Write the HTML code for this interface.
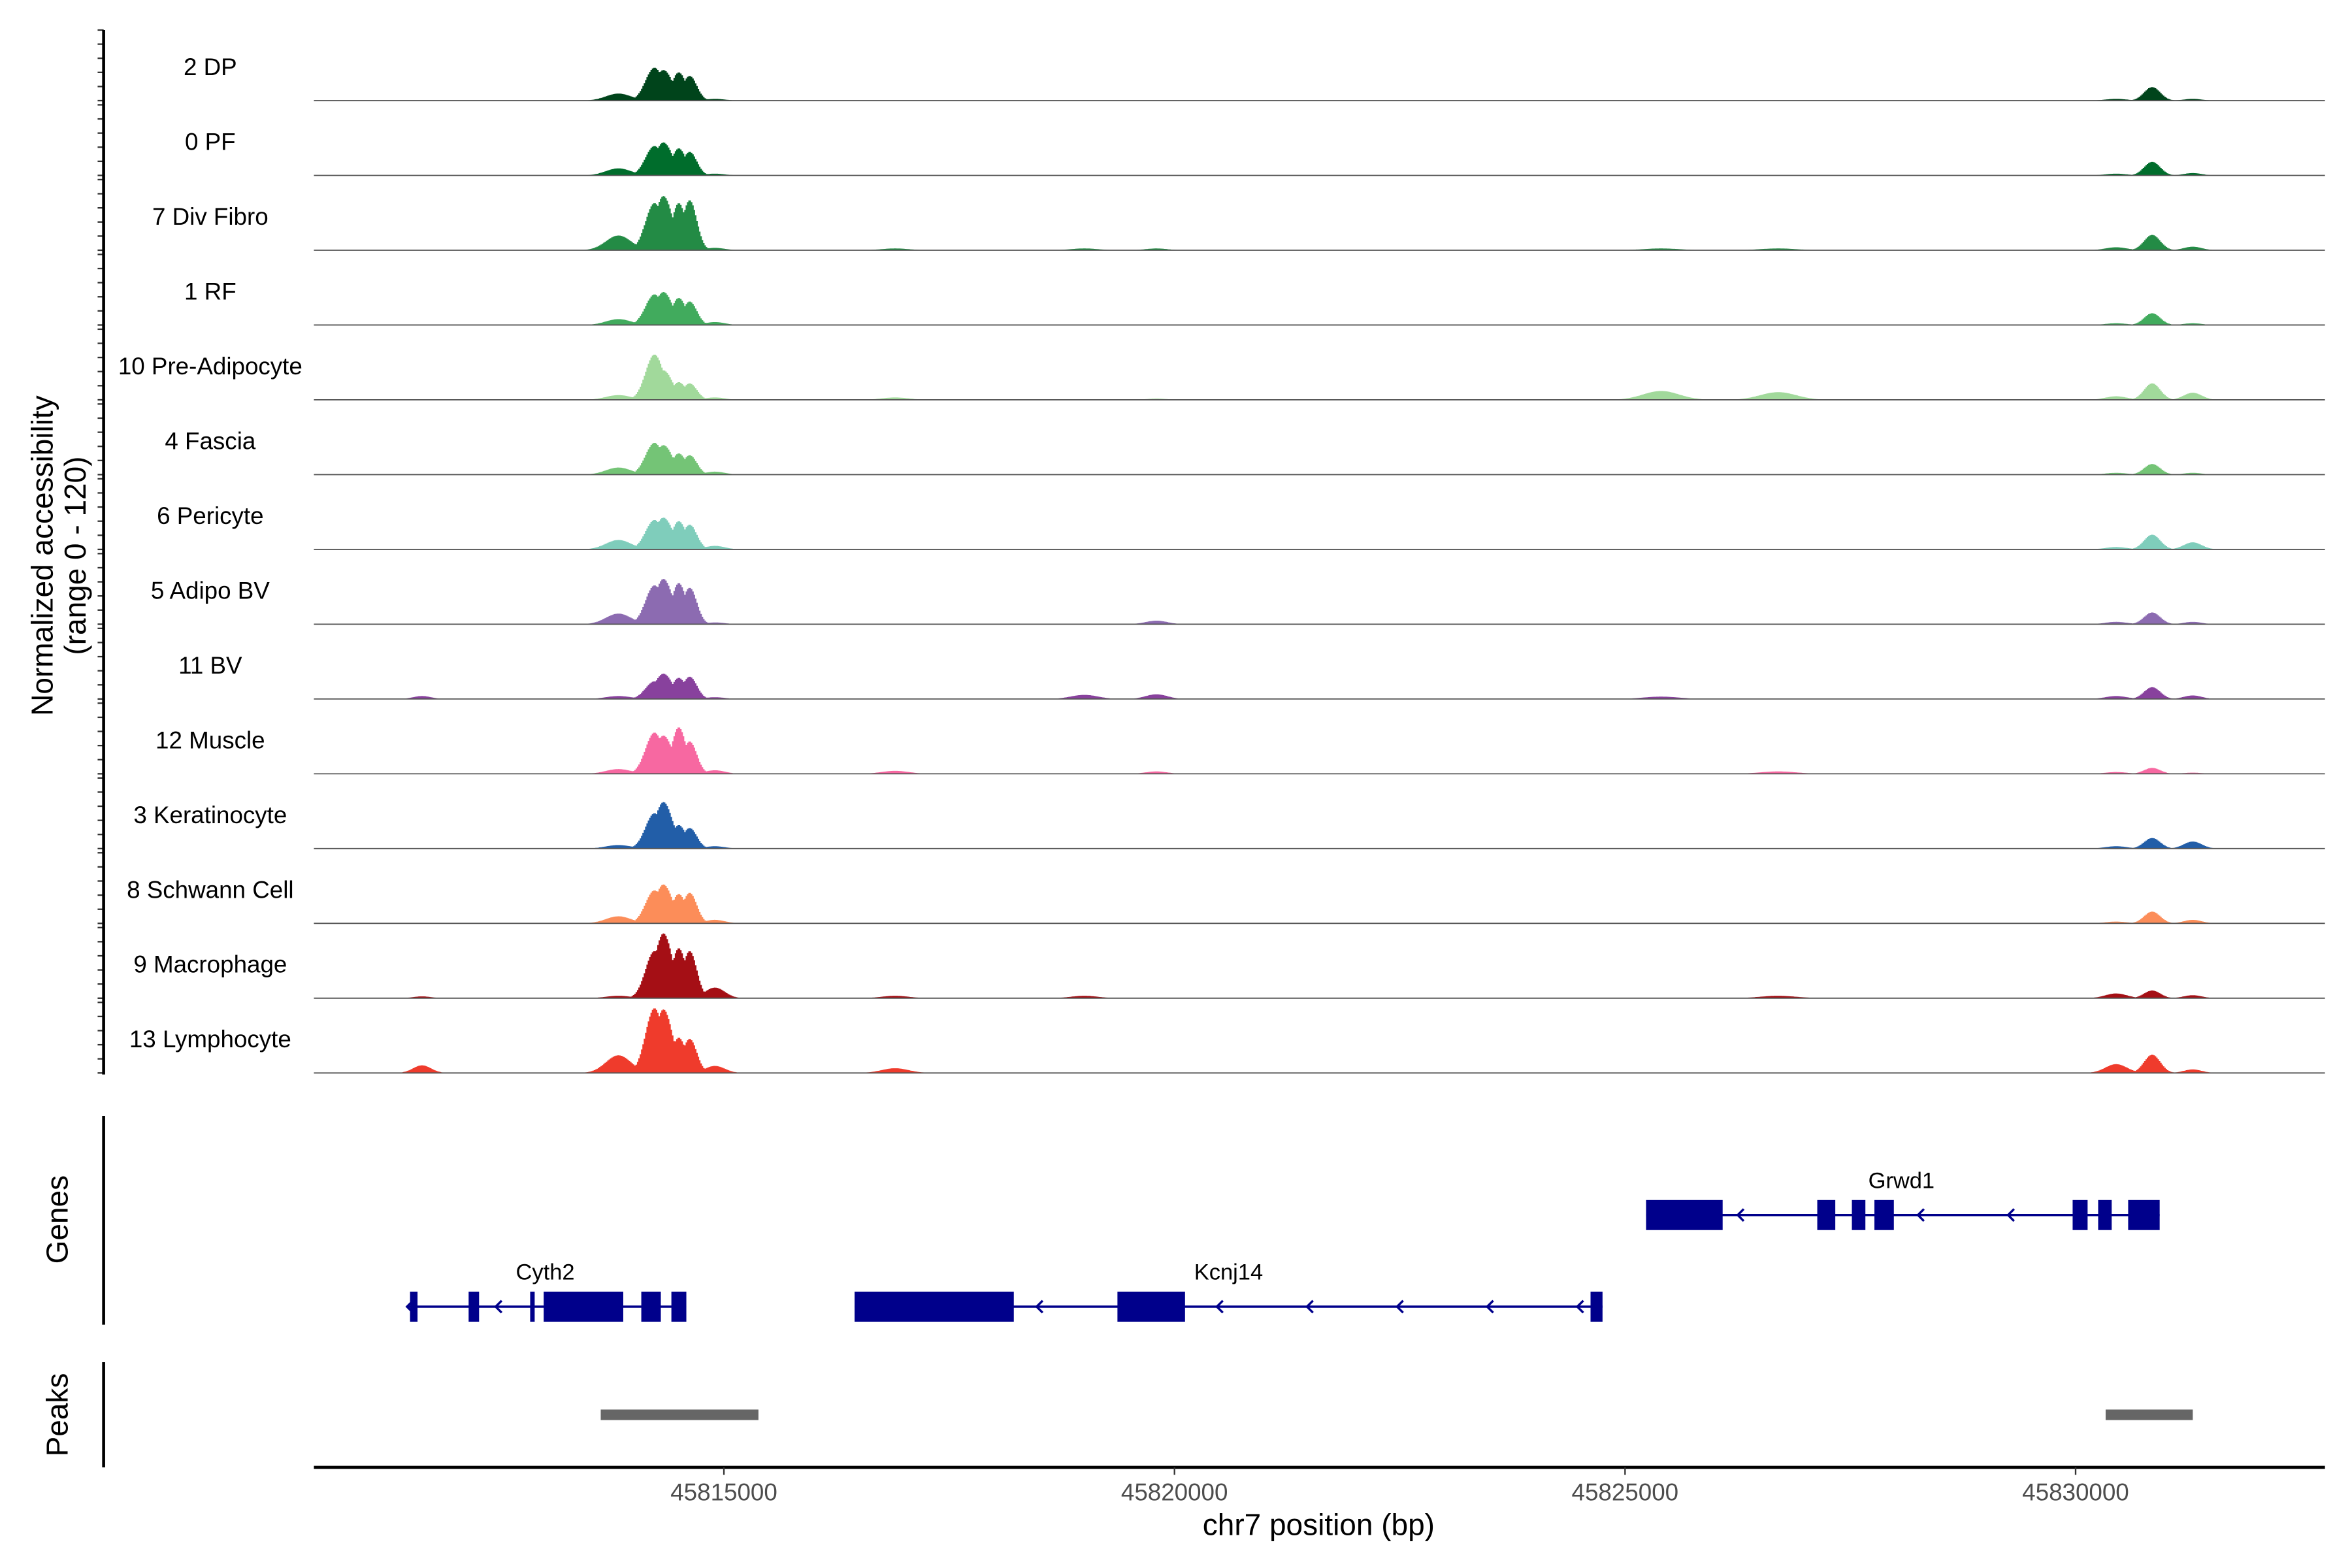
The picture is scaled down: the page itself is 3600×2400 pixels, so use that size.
<!DOCTYPE html>
<html><head><meta charset="utf-8"><style>
html,body{margin:0;padding:0;background:#fff;}
svg{display:block;font-family:"Liberation Sans",Arial,sans-serif;}
</style></head><body>
<svg id="chart" width="3600" height="2400" viewBox="0 0 1566 1044" xmlns="http://www.w3.org/2000/svg">
<g id="tracks"></g>
<g id="leftaxis"></g>
<text transform="translate(35,370) rotate(-90)" text-anchor="middle" font-size="20" fill="#000">Normalized accessibility</text>
<text transform="translate(57,370) rotate(-90)" text-anchor="middle" font-size="20" fill="#000">(range 0 - 120)</text>
<line x1="69" y1="743" x2="69" y2="882" stroke="#000" stroke-width="2"/>
<text transform="translate(45,812) rotate(-90)" text-anchor="middle" font-size="20">Genes</text>
<line x1="69" y1="907" x2="69" y2="977" stroke="#000" stroke-width="2"/>
<text transform="translate(45,942) rotate(-90)" text-anchor="middle" font-size="20">Peaks</text>
<g id="genes"></g>
<g id="peaks"></g>
<g id="xaxis"></g>
<text x="878" y="1022" text-anchor="middle" font-size="20">chr7 position (bp)</text>
</svg>
<script>
const NS="http://www.w3.org/2000/svg";
// ---- data ----
const trackNames=["2 DP","0 PF","7 Div Fibro","1 RF","10 Pre-Adipocyte","4 Fascia","6 Pericyte","5 Adipo BV","11 BV","12 Muscle","3 Keratinocyte","8 Schwann Cell","9 Macrophage","13 Lymphocyte"];
const trackColors=["#00441b","#006d2c","#238b45","#41ab5d","#a1d99b","#74c476","#7fcdbb","#8c6bb1","#88419d","#f768a1","#225ea8","#fc8d59","#a50f15","#ef3b2c"];
const peakCenters=[45811650,45813830,45814230,45814330,45814500,45814620,45814900,45816900,45819000,45819800,45825400,45826700,45830450,45830850,45831300];
const peakSigma=[100,140,100,100,80,80,110,150,150,120,200,200,120,90,100];
const h_2DP=[0,12,56,52,48,42,3,0,0,0,0,0,3,23,3];
const h_0PF=[0,12,50,56,46,40,3,0,0,0,0,0,3,23,4];
const h_7Div=[0,25,80,92,80,85,4,3,3,3,3,3,5,26,6];
const h_1RF=[0,10,52,56,46,40,5,0,0,0,0,0,3,20,3];
const h_PreAd=[0,8,77,50,30,28,4,4,0,2,15,13,6,28,12];
const h_Fascia=[0,12,54,50,36,33,5,0,0,0,0,0,3,18,3];
const h_Peri=[0,16,50,54,48,42,6,0,0,0,0,0,4,25,12];
const h_AdipoBV=[0,18,66,77,70,62,3,0,0,6,0,0,4,20,4];
const h_BV=[5,5,30,43,36,38,3,0,7,8,4,0,5,20,6];
const h_Muscle=[0,8,70,65,79,55,6,5,0,4,0,4,3,10,2];
const h_Kerat=[0,6,60,79,40,35,4,0,0,0,0,0,4,18,12];
const h_Schwann=[0,12,56,66,50,52,6,0,0,0,0,0,3,20,6];
const h_Macro=[3,4,80,110,85,80,18,4,4,0,0,4,8,13,5];
const h_Lymph=[13,30,110,108,60,58,12,8,0,0,0,0,15,31,6];
const trackHeights=[h_2DP,h_0PF,h_7Div,h_1RF,h_PreAd,h_Fascia,h_Peri,h_AdipoBV,h_BV,h_Muscle,h_Kerat,h_Schwann,h_Macro,h_Lymph];
const xTicks=[45815000,45820000,45825000,45830000];
const xTickLabels=["45815000","45820000","45825000","45830000"];
const peakRegions=[[45813633,45815383],[45830333,45831300]];
const genes=["Grwd1","Cyth2","Kcnj14"];
const geneSpan=[[45825233,45830933],[45811483,45814583],[45816450,45824750]];
const geneRow=[0,1,1];
const geneLabelPos=[45828067,45813017,45820600];
const exonsGrwd1=[[45825233,45826083],[45827133,45827333],[45827517,45827667],[45827767,45827983],[45829967,45830133],[45830250,45830400],[45830583,45830933]];
const exonsCyth2=[[45811517,45811600],[45812167,45812283],[45812850,45812900],[45813000,45813883],[45814083,45814300],[45814417,45814583]];
const exonsKcnj14=[[45816450,45818217],[45819367,45820117],[45824617,45824750]];
const geneExons=[exonsGrwd1,exonsCyth2,exonsKcnj14];
const arrowsGrwd1=[45826250,45828250,45829250];
const arrowsCyth2=[45811483,45812467];
const arrowsKcnj14=[45818470,45820470,45821470,45822470,45823470,45824470];
const geneArrows=[arrowsGrwd1,arrowsCyth2,arrowsKcnj14];
// ---- scales ----
const X0=209,X1=1548,BP0=45810450,BP1=45832767;
const xs=bp=>X0+(bp-BP0)*(X1-X0)/(BP1-BP0);
const TOP0=20,TSP=49.8,TH=47;
const baseY=i=>TOP0+TH+i*TSP;
const ys=(i,v)=>baseY(i)-Math.min(v,120)/120*TH;
function sig(h,bp){let m=0;for(let k=0;k<peakCenters.length;k++){const d=(bp-peakCenters[k])/peakSigma[k];const v=h[k]*Math.exp(-0.5*d*d);if(v>m)m=v;}return m;}
const tracksG=document.getElementById('tracks');
const axG=document.getElementById('leftaxis');
trackNames.forEach((name,i)=>{
  const g=document.createElementNS(NS,'g');
  
  
  let d='M'+X0+','+baseY(i);
  const step=15;
  for(let bp=BP0;bp<=BP1;bp+=step){
    const v=sig(trackHeights[i],bp+step/2);
    const y=ys(i,v).toFixed(2);
    d+='L'+xs(bp).toFixed(2)+','+y+'L'+xs(bp+step).toFixed(2)+','+y;
  }
  d+='L'+X1+','+baseY(i)+'Z';
  const p=document.createElementNS(NS,'path');
  p.setAttribute('d',d);p.setAttribute('fill',trackColors[i]);
  
  
  g.appendChild(p);
  const l=document.createElementNS(NS,'line');
  l.setAttribute('x1',X0);l.setAttribute('x2',X1);l.setAttribute('y1',baseY(i));l.setAttribute('y2',baseY(i));
  l.setAttribute('stroke','#555');l.setAttribute('stroke-width','0.8');
  
  
  g.appendChild(l);
  const t=document.createElementNS(NS,'text');
  t.setAttribute('x',140);t.setAttribute('y',baseY(i)-17);t.setAttribute('text-anchor','middle');t.setAttribute('font-size','16');
  t.textContent=name;
  
  
  g.appendChild(t);
  tracksG.appendChild(g);
  for(let k=0;k<=5;k++){
    const tk=document.createElementNS(NS,'line');
    const yy=ys(i,k*24);
    tk.setAttribute('x1',65);tk.setAttribute('x2',69);tk.setAttribute('y1',yy);tk.setAttribute('y2',yy);
    tk.setAttribute('stroke','#333');tk.setAttribute('stroke-width','1');
    
    
    axG.appendChild(tk);
  }
});
const al=document.createElementNS(NS,'line');
al.setAttribute('x1',69);al.setAttribute('x2',69);al.setAttribute('y1',TOP0);al.setAttribute('y2',baseY(13)+1);
al.setAttribute('stroke','#000');al.setAttribute('stroke-width','2');


axG.appendChild(al);
// genes
const gG=document.getElementById('genes');
const rowY=[809,870];
genes.forEach((gn,gi)=>{
  const g=document.createElementNS(NS,'g');
  
  
  const y=rowY[geneRow[gi]];
  const ln=document.createElementNS(NS,'line');
  ln.setAttribute('x1',xs(geneSpan[gi][0]));ln.setAttribute('x2',xs(geneSpan[gi][1]));ln.setAttribute('y1',y);ln.setAttribute('y2',y);
  ln.setAttribute('stroke','#00008b');ln.setAttribute('stroke-width','1.5');
  
  
  g.appendChild(ln);
  geneExons[gi].forEach(e=>{
    const r=document.createElementNS(NS,'rect');
    r.setAttribute('x',xs(e[0]));r.setAttribute('width',xs(e[1])-xs(e[0]));r.setAttribute('y',y-10);r.setAttribute('height',20);
    r.setAttribute('fill','#00008b');
    
    
    g.appendChild(r);
  });
  geneArrows[gi].forEach(a=>{
    const p=document.createElementNS(NS,'path');
    const x=xs(a);
    p.setAttribute('d','M'+(x+4)+','+(y-4)+'L'+x+','+y+'L'+(x+4)+','+(y+4));
    p.setAttribute('stroke','#00008b');p.setAttribute('fill','none');p.setAttribute('stroke-width','1.5');
    
    
    g.appendChild(p);
  });
  const t=document.createElementNS(NS,'text');
  t.setAttribute('x',xs(geneLabelPos[gi]));t.setAttribute('y',y-18);t.setAttribute('text-anchor','middle');t.setAttribute('font-size','15');
  t.textContent=gn;
  
  
  g.appendChild(t);
  gG.appendChild(g);
});
// peaks
const pG=document.getElementById('peaks');
peakRegions.forEach(pr=>{
  const r=document.createElementNS(NS,'rect');
  r.setAttribute('x',xs(pr[0]));r.setAttribute('width',xs(pr[1])-xs(pr[0]));r.setAttribute('y',938.5);r.setAttribute('height',7);
  r.setAttribute('fill','#666');
  
  
  pG.appendChild(r);
});
// x axis
const xG=document.getElementById('xaxis');
const xl=document.createElementNS(NS,'line');
xl.setAttribute('x1',X0);xl.setAttribute('x2',X1);xl.setAttribute('y1',977);xl.setAttribute('y2',977);
xl.setAttribute('stroke','#000');xl.setAttribute('stroke-width','2');


xG.appendChild(xl);
xTicks.forEach((v,i)=>{
  const x=xs(v);
  const tk=document.createElementNS(NS,'line');
  tk.setAttribute('x1',x);tk.setAttribute('x2',x);tk.setAttribute('y1',977);tk.setAttribute('y2',982);
  tk.setAttribute('stroke','#333');
  
  
  xG.appendChild(tk);
  const t=document.createElementNS(NS,'text');
  t.setAttribute('x',x);t.setAttribute('y',999);t.setAttribute('text-anchor','middle');t.setAttribute('font-size','16');t.setAttribute('fill','#4d4d4d');
  t.textContent=xTickLabels[i];
  
  
  xG.appendChild(t);
});
</script>
</body></html>
